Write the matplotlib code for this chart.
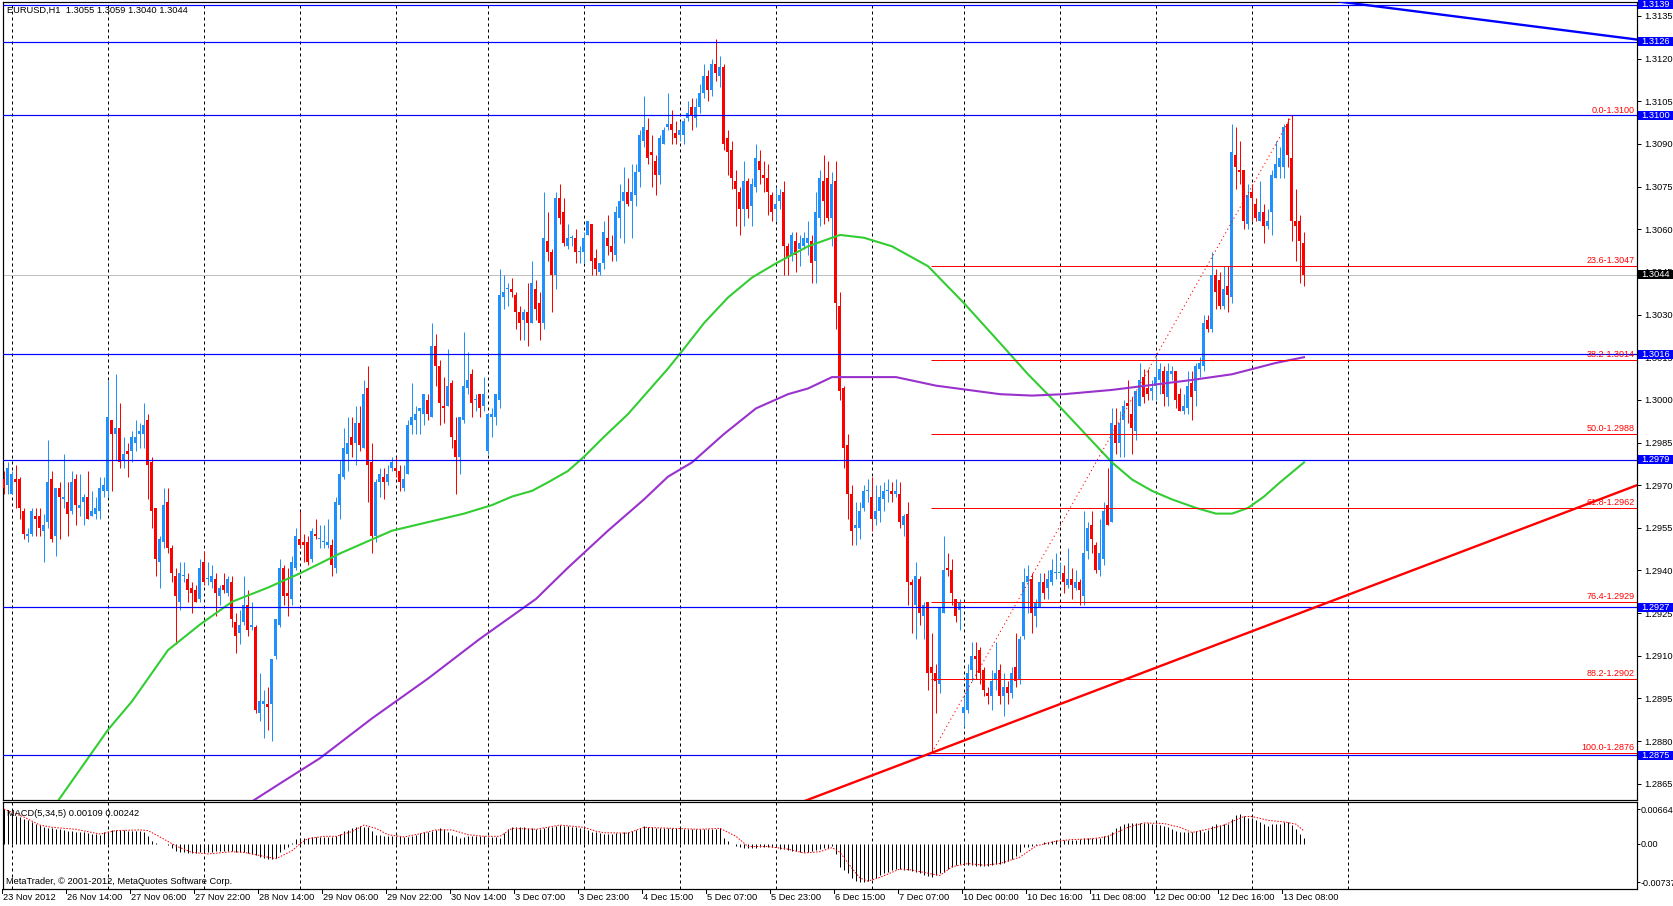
import matplotlib
matplotlib.use('Agg')
import matplotlib.pyplot as plt
import matplotlib.transforms as mtransforms
from matplotlib.patches import Rectangle
from matplotlib.lines import Line2D
import numpy as np

W, H = 1674, 906
plt.rcParams['font.family'] = ['Liberation Sans', 'DejaVu Sans']
FS = 6.7

# EURUSD H1 bars, prices in pips (2972 -> 1.2972)
opens = [
    2972, 2970, 2967, 2972, 2972, 2961, 2952, 2953, 2959, 2959,
    2954, 2957, 2972, 2952, 2969, 2965, 2964, 2961, 2972, 2962,
    2964, 2966, 2959, 2960, 2961, 2968, 2968, 2993, 2988, 2990,
    2979, 2982, 2982, 2985, 2988, 2988, 2993, 2978, 2962, 2943,
    2950, 2964, 2948, 2938, 2929, 2938, 2937, 2934, 2933, 2930,
    2943, 2937, 2936, 2937, 2931, 2935, 2932, 2936, 2922, 2918,
    2922, 2928, 2920, 2920, 2890, 2893, 2893, 2893, 2910, 2921,
    2941, 2932, 2930, 2941, 2951, 2950, 2950, 2944, 2953, 2951,
    2950, 2949, 2949, 2941, 2963, 2973, 2981, 2987, 2985, 2992,
    2983, 3004, 2978, 2952, 2971, 2973, 2971, 2976, 2976, 2975,
    2969, 2974, 2991, 2993, 2996, 2995, 3000, 2994, 3019, 3012,
    2998, 2998, 3006, 2986, 2980, 2993, 3004, 3009, 3000, 3002,
    2998, 2982, 2994, 2994, 3000, 3036, 3039, 3039, 3037, 3031,
    3028, 3031, 3027, 3039, 3034, 3027, 3056, 3052, 3044, 3071,
    3066, 3054, 3057, 3057, 3052, 3052, 3058, 3062, 3050, 3045,
    3048, 3057, 3054, 3051, 3064, 3070, 3073, 3070, 3072, 3080,
    3091, 3095, 3087, 3084, 3079, 3090, 3096, 3097, 3094, 3093,
    3093, 3099, 3103, 3099, 3103, 3108, 3114, 3109, 3118, 3114,
    3117, 3092, 3088, 3077, 3073, 3067, 3077, 3068, 3075, 3084,
    3079, 3078, 3072, 3067, 3070, 3073, 3054, 3051, 3056, 3053,
    3054, 3055, 3056, 3049, 3064, 3077, 3078, 3064, 3077, 3033,
    3004, 2984, 2967, 2955, 2955, 2962, 2968, 2966, 2958, 2961,
    2965, 2968, 2968, 2967, 2967, 2956, 2960, 2936, 2928, 2937,
    2924, 2929, 2906, 2904, 2900, 2925, 2941, 2940, 2930, 2926,
    2890, 2891, 2905, 2910, 2912, 2905, 2897, 2896, 2902, 2905,
    2896, 2899, 2897, 2906, 2902, 2917, 2936, 2937, 2924, 2927,
    2936, 2934, 2936, 2939, 2939, 2939, 2935, 2937, 2934, 2936,
    2931, 2947, 2956, 2949, 2940, 2944, 2963, 2957, 2991, 2985,
    2993, 2999, 2995, 2989, 2998, 3008, 3004, 3003, 3005, 3007,
    3010, 3001, 3009, 3010, 3002, 2996, 2997, 3006, 3003, 3011,
    3012, 3028, 3025, 3044, 3042, 3033, 3040, 3036, 3086, 3081,
    3081, 3062, 3073, 3069, 3063, 3066, 3061, 3066, 3078, 3082,
    3082, 3097, 3085, 3063, 3063, 3055]
highs = [
    2975, 2978, 2975, 2977, 2973, 2962, 2955, 2962, 2962, 2962,
    2960, 2986, 2975, 2969, 2971, 2981, 2971, 2975, 2974, 2974,
    2967, 2975, 2968, 2966, 2973, 2973, 3007, 2993, 3009, 2999,
    2987, 2985, 2989, 2993, 2992, 2999, 2995, 2980, 2962, 2952,
    2969, 2969, 2949, 2941, 2943, 2943, 2939, 2936, 2935, 2944,
    2947, 2943, 2942, 2939, 2935, 2939, 2938, 2938, 2925, 2926,
    2938, 2933, 2929, 2921, 2904, 2898, 2899, 2909, 2923, 2944,
    2942, 2941, 2945, 2955, 2961, 2953, 2952, 2955, 2958, 2956,
    2956, 2958, 2951, 2966, 2979, 2990, 2994, 2994, 2998, 2998,
    3007, 3012, 2985, 2972, 2976, 2976, 2977, 2980, 2980, 2977,
    2977, 2993, 3006, 2998, 2997, 3002, 3002, 3027, 3023, 3014,
    3008, 3018, 3007, 2994, 2994, 3024, 3017, 3011, 3002, 3002,
    3008, 2995, 2997, 3002, 3046, 3044, 3041, 3043, 3038, 3033,
    3032, 3041, 3049, 3042, 3038, 3073, 3066, 3053, 3073, 3076,
    3071, 3062, 3058, 3060, 3054, 3059, 3063, 3062, 3053, 3048,
    3063, 3065, 3058, 3068, 3076, 3082, 3078, 3083, 3083, 3095,
    3107, 3099, 3093, 3086, 3093, 3096, 3108, 3102, 3098, 3098,
    3099, 3105, 3106, 3106, 3111, 3118, 3116, 3120, 3127, 3121,
    3118, 3095, 3091, 3081, 3075, 3084, 3078, 3078, 3090, 3088,
    3084, 3083, 3073, 3075, 3074, 3077, 3055, 3059, 3059, 3058,
    3059, 3063, 3058, 3073, 3081, 3086, 3084, 3080, 3084, 3038,
    3005, 2988, 2970, 2964, 2964, 2970, 2972, 2973, 2970, 2970,
    2971, 2972, 2971, 2972, 2971, 2960, 2964, 2937, 2943, 2938,
    2929, 2929, 2918, 2907, 2927, 2952, 2946, 2944, 2930, 2930,
    2896, 2907, 2915, 2915, 2913, 2906, 2899, 2905, 2915, 2907,
    2904, 2901, 2906, 2918, 2917, 2941, 2942, 2939, 2930, 2939,
    2939, 2940, 2944, 2946, 2943, 2942, 2948, 2941, 2940, 2937,
    2961, 2957, 2961, 2950, 2958, 2964, 2976, 2997, 2997, 2996,
    3000, 3007, 3001, 3003, 3013, 3011, 3011, 3007, 3015, 3013,
    3012, 3013, 3012, 3010, 3004, 3002, 3010, 3010, 3013, 3015,
    3030, 3030, 3052, 3046, 3045, 3047, 3047, 3097, 3096, 3091,
    3081, 3076, 3076, 3071, 3077, 3069, 3067, 3081, 3091, 3089,
    3097, 3099, 3100, 3074, 3065, 3059]
lows = [
    2967, 2967, 2967, 2962, 2958, 2951, 2950, 2952, 2952, 2952,
    2943, 2955, 2950, 2945, 2951, 2962, 2952, 2960, 2956, 2959,
    2956, 2958, 2959, 2958, 2958, 2966, 2966, 2968, 2979, 2976,
    2976, 2973, 2978, 2982, 2983, 2983, 2965, 2955, 2938, 2934,
    2948, 2946, 2936, 2914, 2926, 2936, 2929, 2925, 2929, 2929,
    2935, 2935, 2934, 2924, 2928, 2932, 2931, 2920, 2911, 2914,
    2921, 2917, 2919, 2890, 2887, 2881, 2884, 2880, 2909, 2920,
    2928, 2924, 2928, 2940, 2948, 2943, 2942, 2943, 2951, 2948,
    2948, 2948, 2938, 2939, 2958, 2972, 2975, 2980, 2977, 2982,
    2983, 2964, 2946, 2950, 2966, 2965, 2970, 2975, 2973, 2968,
    2968, 2974, 2988, 2988, 2988, 2991, 2993, 2994, 3005, 2991,
    2992, 2998, 2983, 2967, 2974, 2992, 3002, 2994, 2996, 2994,
    2996, 2981, 2987, 2991, 2997, 3032, 3033, 3036, 3025, 3021,
    3021, 3019, 3027, 3028, 3021, 3025, 3049, 3031, 3039, 3062,
    3054, 3053, 3054, 3048, 3048, 3048, 3058, 3044, 3044, 3044,
    3046, 3051, 3049, 3049, 3057, 3055, 3068, 3057, 3068, 3075,
    3089, 3083, 3075, 3072, 3076, 3090, 3095, 3090, 3090, 3091,
    3090, 3098, 3095, 3096, 3101, 3106, 3105, 3107, 3112, 3110,
    3088, 3079, 3074, 3061, 3058, 3061, 3064, 3061, 3073, 3076,
    3073, 3065, 3063, 3063, 3067, 3044, 3044, 3049, 3045, 3047,
    3053, 3051, 3041, 3041, 3061, 3062, 3063, 3054, 3025, 3000,
    2976, 2958, 2949, 2949, 2951, 2961, 2964, 2954, 2956, 2957,
    2961, 2964, 2964, 2966, 2955, 2952, 2928, 2918, 2916, 2921,
    2916, 2898, 2876, 2890, 2897, 2925, 2938, 2928, 2922, 2919,
    2885, 2890, 2901, 2902, 2900, 2896, 2893, 2891, 2898, 2893,
    2889, 2893, 2895, 2899, 2900, 2916, 2925, 2918, 2920, 2927,
    2930, 2930, 2935, 2937, 2937, 2932, 2934, 2930, 2933, 2928,
    2928, 2944, 2946, 2939, 2938, 2942, 2956, 2957, 2981, 2980,
    2980, 2992, 2981, 2986, 2998, 2999, 3000, 3000, 3000, 3002,
    2998, 2998, 3007, 2997, 2996, 2995, 2995, 2993, 2998, 3008,
    3010, 3024, 3024, 3032, 3032, 3032, 3031, 3034, 3074, 3076,
    3060, 3060, 3063, 3063, 3063, 3055, 3060, 3058, 3078, 3078,
    3078, 3082, 3056, 3049, 3041, 3040]
closes = [
    2969, 2976, 2974, 2971, 2962, 2953, 2953, 2961, 2958, 2955,
    2956, 2971, 2951, 2969, 2966, 2966, 2960, 2971, 2963, 2963,
    2966, 2958, 2961, 2962, 2969, 2970, 2994, 2988, 2990, 2978,
    2981, 2981, 2987, 2987, 2989, 2991, 2977, 2961, 2944, 2951,
    2963, 2948, 2939, 2931, 2939, 2938, 2933, 2932, 2929, 2941,
    2936, 2937, 2938, 2932, 2934, 2933, 2937, 2923, 2917, 2921,
    2928, 2919, 2921, 2891, 2894, 2894, 2892, 2909, 2923, 2941,
    2931, 2931, 2943, 2952, 2949, 2949, 2943, 2954, 2952, 2951,
    2950, 2950, 2942, 2964, 2974, 2983, 2985, 2984, 2992, 2984,
    3002, 2977, 2952, 2971, 2974, 2971, 2974, 2978, 2975, 2971,
    2972, 2991, 2994, 2995, 2997, 3002, 2995, 3019, 3012, 2999,
    2997, 3005, 2987, 2980, 2994, 3005, 3007, 2999, 3000, 2997,
    3002, 2995, 2995, 3002, 3037, 3038, 3039, 3038, 3031, 3027,
    3031, 3027, 3041, 3032, 3027, 3057, 3052, 3044, 3071, 3064,
    3055, 3057, 3057, 3052, 3052, 3057, 3063, 3049, 3046, 3048,
    3059, 3054, 3052, 3066, 3070, 3073, 3069, 3073, 3080, 3093,
    3096, 3085, 3086, 3079, 3092, 3095, 3097, 3095, 3092, 3095,
    3098, 3101, 3100, 3103, 3108, 3114, 3109, 3118, 3115, 3117,
    3090, 3087, 3078, 3074, 3067, 3077, 3067, 3076, 3085, 3081,
    3078, 3073, 3066, 3069, 3072, 3054, 3050, 3058, 3051, 3055,
    3057, 3057, 3048, 3066, 3078, 3070, 3064, 3076, 3034, 3003,
    2983, 2967, 2954, 2956, 2961, 2968, 2968, 2958, 2961, 2966,
    2968, 2968, 2967, 2968, 2957, 2959, 2936, 2935, 2938, 2925,
    2928, 2904, 2904, 2901, 2927, 2940, 2940, 2932, 2924, 2929,
    2892, 2904, 2910, 2909, 2904, 2898, 2896, 2901, 2904, 2896,
    2899, 2897, 2904, 2901, 2916, 2936, 2938, 2925, 2929, 2936,
    2932, 2937, 2940, 2939, 2939, 2936, 2937, 2935, 2936, 2933,
    2946, 2955, 2951, 2940, 2946, 2961, 2956, 2992, 2985, 2992,
    2998, 2998, 2990, 3003, 3007, 3001, 3002, 3004, 3008, 3011,
    3002, 3010, 3010, 3000, 2996, 2998, 3005, 3001, 3012, 3013,
    3027, 3025, 3044, 3038, 3033, 3039, 3037, 3087, 3082, 3080,
    3063, 3072, 3071, 3064, 3066, 3061, 3063, 3079, 3083, 3085,
    3096, 3086, 3063, 3061, 3056, 3044]

# moving averages (bar index, pips)
green_bars = [10, 23, 26, 32, 41, 49, 57, 66, 74, 84, 97, 115, 122, 127, 132, 136, 141, 145, 150,
              156, 161, 166, 170, 175, 181, 187, 193, 201, 209, 215, 222, 231, 240, 249, 256, 263,
              271, 277, 282, 287, 292, 298, 303, 307, 311, 315, 319, 325]
green_vals = [2852, 2878, 2884, 2894, 2912, 2921, 2929, 2934, 2939, 2946, 2954, 2960, 2963, 2966,
              2968, 2971, 2975, 2980, 2987, 2995, 3003, 3011, 3018, 3027, 3036, 3043, 3048, 3054,
              3058, 3057, 3054, 3047, 3034, 3020, 3009, 2999, 2987, 2978, 2972, 2968, 2965, 2962,
              2960, 2960, 2962, 2966, 2971, 2978]
purple_bars = [60, 70, 79, 92, 106, 119, 133, 141, 151, 160, 166, 172, 180, 188, 196, 201, 207,
               223, 233, 249, 257, 265, 277, 297, 307, 318, 325]
purple_vals = [2857, 2866, 2874, 2888, 2902, 2916, 2930, 2941, 2954, 2965, 2973, 2978, 2988, 2997,
               3002, 3004, 3008, 3008, 3005, 3002, 3001.5, 3002, 3003.5, 3007, 3009, 3013, 3015]

# MACD(5,34,5) histogram per bar and signal samples, in 1e-5
macd_hist = [
    662, 631, 590, 539, 510, 478, 450, 417, 385, 356,
    320, 305, 294, 285, 276, 265, 251, 242, 233, 224,
    215, 203, 190, 180, 172, 220, 250, 264, 264, 264,
    258, 251, 248, 245, 240, 233, 141, 49, 20, 0,
    -15, -31, -90, -135, -150, -166, -172, -178, -172, -166,
    -160, -153, -150, -147, -147, -147, -141, -145, -153, -160,
    -166, -180, -196, -220, -257, -280, -300, -290, -276, -166,
    -110, -55, 20, 92, 100, 110, 118, 123, 126, 129,
    129, 129, 135, 141, 190, 251, 270, 294, 315, 337,
    325, 313, 240, 172, 160, 153, 147, 141, 141, 141,
    135, 129, 150, 172, 200, 215, 230, 245, 270, 294,
    276, 220, 172, 140, 110, 125, 141, 141, 141, 141,
    141, 135, 129, 120, 110, 200, 276, 313, 313, 313,
    313, 300, 294, 276, 285, 294, 310, 325, 340, 356,
    345, 337, 325, 313, 295, 276, 255, 233, 215, 202,
    190, 190, 190, 200, 210, 222, 233, 250, 270, 294,
    337, 325, 313, 300, 294, 294, 294, 294, 294, 294,
    285, 276, 276, 276, 276, 276, 276, 276, 276, 294,
    110, 49, 0, -43, -60, -74, -74, -74, -74, -65,
    -55, -55, -55, -70, -92, -110, -125, -135, -145, -153,
    -153, -153, -140, -120, -104, -90, -74, -50, -196, -441,
    -500, -564, -650, -717, -737, -730, -717, -680, -656, -607,
    -570, -533, -510, -484, -490, -503, -503, -515, -533, -560,
    -595, -620, -644, -607, -560, -533, -480, -441, -410, -398,
    -405, -411, -417, -423, -423, -423, -423, -410, -398, -385,
    -362, -330, -288, -230, -166, -55, -55, -40, -31, 0,
    31, 40, 49, 65, 80, 75, 67, 70, 80, 95,
    110, 110, 110, 110, 110, 140, 172, 230, 294, 340,
    374, 390, 398, 398, 398, 398, 390, 386, 370, 356,
    335, 313, 280, 251, 230, 215, 220, 233, 250, 265,
    233, 264, 337, 374, 356, 374, 386, 478, 558, 570,
    521, 497, 497, 460, 417, 374, 337, 386, 386, 386,
    417, 417, 356, 276, 190, 109]
sig_bars = [0, 5, 9, 12, 18, 24, 28, 34, 36, 39, 43, 47, 51, 57, 60, 64, 68, 72, 74, 76, 80, 83,
            87, 90, 93, 96, 100, 104, 108, 112, 116, 120, 124, 127, 133, 139, 145, 148, 150, 156,
            160, 167, 174, 179, 183, 186, 191, 196, 200, 204, 207, 209, 212, 214, 216, 219, 224,
            227, 232, 234, 237, 241, 245, 249, 254, 258, 263, 267, 272, 276, 281, 285, 290, 294,
            297, 302, 305, 310, 312, 316, 320, 323, 325]
sig_vals = [662, 509, 356, 313, 276, 184, 251, 264, 251, 129, -43, -166, -196, -153, -166, -227,
            -288, -135, 0, 98, 141, 141, 233, 356, 294, 172, 129, 190, 264, 264, 172, 141, 141,
            294, 276, 356, 313, 240, 210, 202, 313, 294, 276, 294, 141, -55, -55, -104, -178,
            -153, -74, -166, -472, -656, -717, -644, -484, -503, -582, -607, -441, -380, -411,
            -380, -257, -43, 49, 80, 92, 141, 313, 398, 386, 313, 215, 294, 356, 521, 521, 447,
            417, 374, 242]

# chart objects
blue_levels = [3139, 3126, 3100, 3016, 2979, 2927, 2875]
fib_ratios = ['0.0', '23.6', '38.2', '50.0', '61.8', '76.4', '88.2', '100.0']
fib_levels = [3100, 3047, 3014, 2988, 2962, 2929, 2902, 2876]
fib_start = 231.75
fib_diag_bars = [232, 322]
fib_diag_vals = [2876, 3100]
red_trend_bars = [198, 408.25]
red_trend_vals = [2857.8, 2970]
blue_trend_bars = [334, 408.25]
blue_trend_vals = [3140, 3126.7]
bid = 3044
price_ticks = [3135, 3120, 3105, 3090, 3075, 3060, 3045, 3030, 3015, 3000, 2985, 2970, 2955,
               2940, 2925, 2910, 2895, 2880, 2865]
day_bars = [2, 26, 50, 74, 98, 121, 145, 169, 193, 217, 240, 264, 288, 312, 336]
time_labels = ['23 Nov 2012', '26 Nov 14:00', '27 Nov 06:00', '27 Nov 22:00', '28 Nov 14:00',
               '29 Nov 06:00', '29 Nov 22:00', '30 Nov 14:00', '3 Dec 07:00', '3 Dec 23:00',
               '4 Dec 15:00', '5 Dec 07:00', '5 Dec 23:00', '6 Dec 15:00', '7 Dec 07:00',
               '10 Dec 00:00', '10 Dec 16:00', '11 Dec 08:00', '12 Dec 00:00', '12 Dec 16:00',
               '13 Dec 08:00']


def px(v):
    return 1 + np.asarray(v, dtype=float) / 10000.0


PX = 0.72  # one pixel in points
fig = plt.figure(figsize=(W / 100, H / 100), dpi=100)
fig.patch.set_facecolor('white')
L, R = 3, 1637
ax = fig.add_axes([L / W, (H - 800) / H, (R - L) / W, (800 - 2) / H])
axm = fig.add_axes([L / W, (H - 889) / H, (R - L) / W, (889 - 802) / H])
for a in (ax, axm):
    a.set_xlim(-0.25, 408.25)
    a.set_facecolor('white')
    for s in a.spines.values():
        s.set_color('black')
        s.set_linewidth(PX * 1.2)
    a.tick_params(axis='x', length=0, labelbottom=False)
    a.yaxis.tick_right()
    for d in day_bars:
        a.axvline(d, color='black', lw=PX, ls=(0, (3, 3)), zorder=1)

ax.tick_params(axis='y', direction='out', length=3, width=PX, pad=2, labelsize=FS,
               colors='black')
axm.tick_params(axis='y', direction='out', length=2, width=PX, pad=0.5, labelsize=FS - 0.2,
                colors='black')

ax.set_ylim(1.28593, 1.31399)
ax.set_yticks(px(price_ticks))
ax.set_yticklabels([f'{v:.4f}' for v in px(price_ticks)])

# candles
o, h, l, c = px(opens), px(highs), px(lows), px(closes)
x = np.arange(len(o))
cols = np.where(c >= o, '#1E90FF', '#FF0000')
ax.vlines(x, l, h, colors=cols, lw=PX, zorder=3)
ax.bar(x, np.maximum(np.abs(c - o), 0.00004), bottom=np.minimum(o, c), width=0.75,
       color=cols, linewidth=0, zorder=4, antialiased=False)

# moving averages
ax.plot(green_bars, px(green_vals), color='#32CD32', lw=1.5, zorder=5)
ax.plot(purple_bars, px(purple_vals), color='#9932CC', lw=1.5, zorder=5)

# horizontal lines and objects
ax.axhline(px(bid), color='#C0C0C0', lw=PX, zorder=2)
ax.hlines(px(fib_levels), fib_start, 408.25, color='#FF0000', lw=PX, zorder=6)
for v in blue_levels:
    ax.axhline(px(v), color='#0000FF', lw=PX * 1.2, zorder=6)
ax.plot(fib_diag_bars, px(fib_diag_vals), color='#FF0000', lw=PX, ls=(0, (1.2, 3)), zorder=6)
ax.plot(red_trend_bars, px(red_trend_vals), color='#FF0000', lw=1.7, zorder=6)
ax.plot(blue_trend_bars, px(blue_trend_vals), color='#0000FF', lw=1.7, zorder=6)
for r, v in zip(fib_ratios, fib_levels):
    ax.text(407.6, px(v) + 0.00003, f'{r}-{1 + v / 10000:.4f}', color='#FF0000',
            fontsize=FS - 0.2, ha='right', va='bottom', zorder=7)

# price boxes on the scale
tr = mtransforms.blended_transform_factory(fig.transFigure, ax.transData)
box_h = 9.5 / 2.84 / 10000
for v, fc in [(b, '#0000FF') for b in blue_levels] + [(bid, '#000000')]:
    fig.add_artist(Rectangle((1638 / W, px(v) - box_h / 2), 36 / W, box_h, transform=tr,
                             facecolor=fc, edgecolor='none', zorder=10))
    fig.text(1641 / W, px(v), f'{px(v):.4f}', transform=tr, color='white', fontsize=FS,
             va='center', ha='left', zorder=11)

# MACD panel
axm.set_ylim(-0.00867, 0.00798)
axm.set_yticks([0.00664, 0.0, -0.00737])
axm.set_yticklabels(['0.00664', '0.00', '-0.00737'])
axm.vlines(x, 0, np.asarray(macd_hist) / 1e5, colors='black', lw=PX, zorder=3)
axm.plot(sig_bars, np.asarray(sig_vals) / 1e5, color='#FF0000', lw=PX, ls=(0, (1.5, 1.5)),
         zorder=4)

# time scale
trx = mtransforms.blended_transform_factory(axm.transData, fig.transFigure)
for k, lab in enumerate(time_labels):
    b = 16 * k
    fig.add_artist(Line2D([b - 0.5, b - 0.5], [1 - 889 / H, 1 - 893 / H], transform=trx,
                          color='black', lw=PX))
    fig.text(b - 0.2, 1 - 898 / H, lab, transform=trx, fontsize=FS, va='center', ha='left')

fig.text(7 / W, 1 - 10.5 / H, 'EURUSD,H1  1.3055 1.3059 1.3040 1.3044', fontsize=FS,
         va='center', ha='left')
fig.text(7 / W, 1 - 813 / H, 'MACD(5,34,5) 0.00109 0.00242', fontsize=FS, va='center',
         ha='left')
fig.text(6 / W, 1 - 882 / H, 'MetaTrader, \u00a9 2001-2012, MetaQuotes Software Corp.',
         fontsize=FS, va='center', ha='left')

fig.savefig('out.png', dpi=100, facecolor='white')
